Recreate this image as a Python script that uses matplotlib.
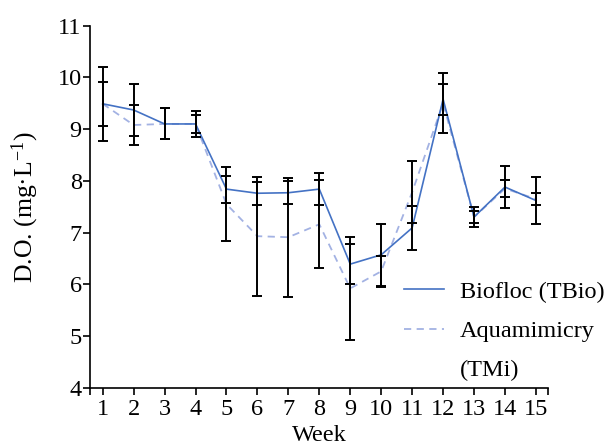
import numpy as np
import matplotlib
matplotlib.use('Agg')
import matplotlib.pyplot as plt
from matplotlib.lines import Line2D

# dissolved oxygen per week, mean and SD
weeks = list(range(1, 16))
bio = [9.49, 9.37, 9.10, 9.10, 7.84, 7.76, 7.77, 7.84, 6.39, 6.57, 7.09, 9.58, 7.30, 7.88, 7.62]
bio_sd = [0.42, 0.50, 0.30, 0.25, 0.26, 0.22, 0.22, 0.31, 0.38, 0.60, 0.42, 0.30, 0.20, 0.40, 0.45]
aqua = [9.49, 9.08, 9.10, 9.10, 7.55, 6.93, 6.91, 7.16, 5.92, 6.25, 7.78, 9.50, 7.30, 7.85, 7.65]
aqua_sd = [0.72, 0.38, 0.30, 0.17, 0.72, 1.15, 1.15, 0.85, 1.00, 0.30, 0.60, 0.58, 0.12, 0.17, 0.12]
yticks = [4, 5, 6, 7, 8, 9, 10, 11]

plt.rcParams['font.family'] = ['Liberation Serif', 'DejaVu Serif']
plt.rcParams['mathtext.fontset'] = 'custom'
plt.rcParams['mathtext.rm'] = 'Liberation Serif'
plt.rcParams['mathtext.it'] = 'Liberation Serif:italic'

fs = 17.5
bio_color = '#4472C4'
aqua_color = '#A3B2E3'

fig = plt.figure(figsize=(6.16, 4.46), dpi=100)
ax = fig.add_axes([90 / 616, 1 - 387.7 / 446, (548.3 - 90) / 616, (387.7 - 25.7) / 446])

ax.plot(weeks, aqua, color=aqua_color, lw=1.3, linestyle=(0, (4, 3)), zorder=2)
ax.plot(weeks, bio, color=bio_color, lw=1.2, zorder=3)
ax.errorbar(weeks, aqua, yerr=aqua_sd, fmt='none', ecolor='black', elinewidth=1.4,
            capsize=3.5, capthick=1.4, zorder=4)
ax.errorbar(weeks, bio, yerr=bio_sd, fmt='none', ecolor='black', elinewidth=1.4,
            capsize=3.5, capthick=1.4, zorder=4)

ax.set_xlim(0.59, 15.4)
ax.set_ylim(4, 11)
ax.set_xticks(weeks)
ax.set_xticks([0.59, 15.4], minor=True)
ax.set_yticks(yticks)
ax.tick_params(axis='both', which='both', direction='out', length=5, width=1.2,
               labelsize=fs)
ax.tick_params(axis='x', which='both', pad=3)
ax.tick_params(axis='y', which='both', pad=1)
ax.tick_params(axis='x', which='minor', labelbottom=False)

for side in ['top', 'right']:
    ax.spines[side].set_visible(False)
for side in ['left', 'bottom']:
    ax.spines[side].set_linewidth(1.2)

ax.set_xlabel('Week', fontsize=fs, labelpad=4)
ax.set_ylabel('D.O. (mg·L$^{\\mathregular{-1}}$)', fontsize=18.5, labelpad=12)

handles = [Line2D([], [], color=bio_color, lw=1.2),
           Line2D([], [], color=aqua_color, lw=1.3, linestyle=(0, (4, 3))),
           Line2D([], [], color='none')]
labels = ['Biofloc (TBio)', 'Aquamimicry', '(TMi)']
fig.legend(handles, labels, loc='center left', bbox_to_anchor=(394 / 616, 1 - 331 / 446),
           frameon=False, fontsize=fs, handlelength=1.65, handletextpad=0.65,
           borderaxespad=0, labelspacing=0.7)

plt.savefig('out.png', dpi=100)
